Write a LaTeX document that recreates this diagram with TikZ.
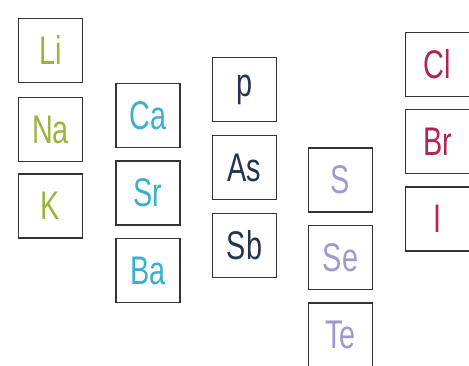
\documentclass[tikz,border=0pt]{standalone}
\usepackage{fontspec}
\setmainfont{Liberation Sans}
\definecolor{cgreen}{HTML}{9BB53C}
\definecolor{ccyan}{HTML}{3BAFD0}
\definecolor{cnavy}{HTML}{24344F}
\definecolor{clav}{HTML}{A397CF}
\definecolor{ccrim}{HTML}{B02456}
\definecolor{cframe}{HTML}{333333}
\begin{document}
\begin{tikzpicture}[x=1pt,y=-1pt,
  elem/.style={draw=cframe,line width=1.8pt,minimum width=64pt,minimum height=64pt,inner sep=0pt,font=\fontsize{40}{40}\selectfont},
]
\useasboundingbox (0,0) rectangle (469,365);
\clip (0,0) rectangle (469,365);
\newcommand{\el}[1]{\scalebox{0.72}[1]{#1}}
\node[elem,text=cgreen] (Li) at (50.5,50.5) {\el{Li}};
\node[elem,text=cgreen] (Na) at (50.5,129.5) {\el{Na}};
\node[elem,text=cgreen] (K) at (50.5,206) {\el{K}};
\node[elem,text=ccyan] (Ca) at (148,115.5) {\el{Ca}};
\node[elem,text=ccyan] (Sr) at (148,193) {\el{Sr}};
\node[elem,text=ccyan] (Ba) at (148,270.5) {\el{Ba}};
\node[elem,text=cnavy] (P) at (244.5,89.5) {\el{p}};
\node[elem,text=cnavy] (As) at (244.5,167.5) {\el{As}};
\node[elem,text=cnavy] (Sb) at (244.5,245.5) {\el{Sb}};
\node[elem,text=clav] (S) at (340.5,180) {\el{S}};
\node[elem,text=clav] (Se) at (340.5,257.5) {\el{Se}};
\node[elem,text=clav] (Te) at (340.5,335) {\el{Te}};
\node[elem,text=ccrim] (Cl) at (437.5,64.5) {\el{Cl}};
\node[elem,text=ccrim] (Br) at (437.5,141.5) {\el{Br}};
\node[elem,text=ccrim] (I) at (437.5,219) {\el{I}};
\end{tikzpicture}
\end{document}
